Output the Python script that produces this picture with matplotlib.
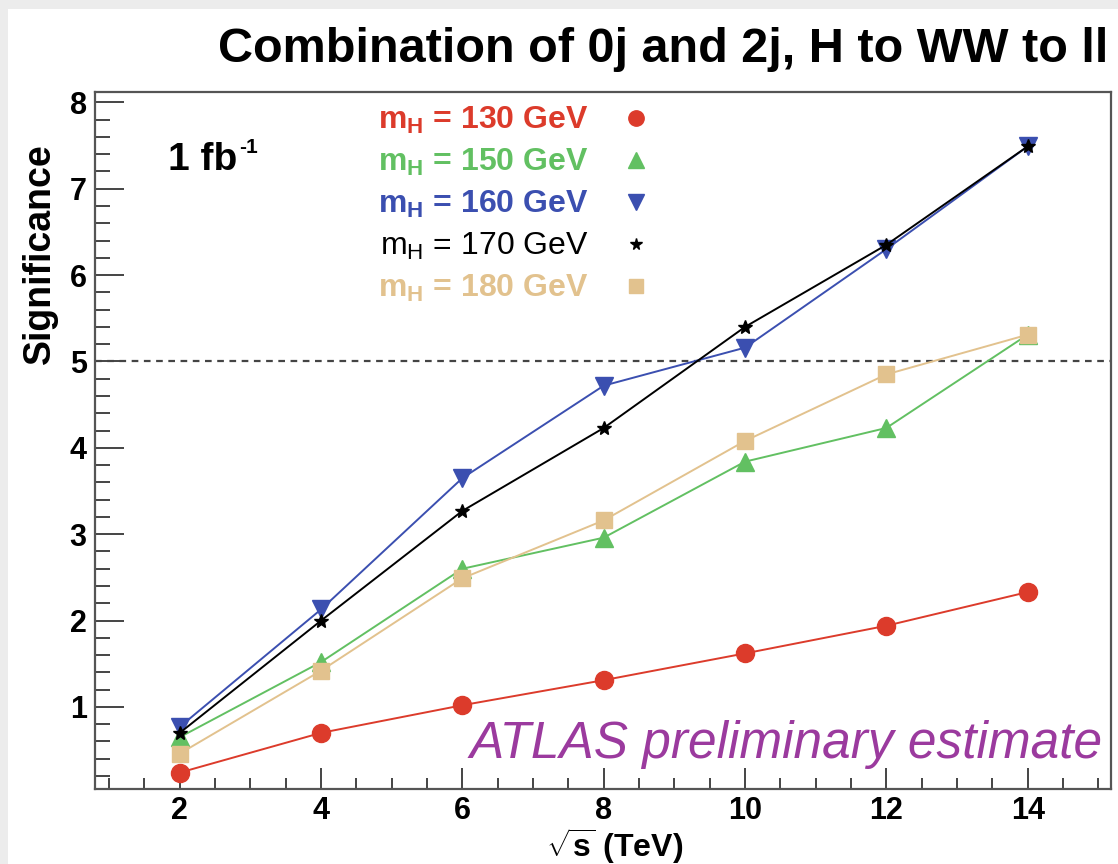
import matplotlib
matplotlib.use("Agg")
import matplotlib.pyplot as plt
from matplotlib.lines import Line2D
from matplotlib.patches import Rectangle
from matplotlib.ticker import MultipleLocator

plt.rcParams['font.family'] = ['Liberation Sans', 'DejaVu Sans']
plt.rcParams['mathtext.fontset'] = 'custom'
plt.rcParams['mathtext.rm'] = 'Liberation Sans'
plt.rcParams['mathtext.bf'] = 'Liberation Sans:bold'
plt.rcParams['mathtext.it'] = 'Liberation Sans:italic'

# data
sqrt_s = [2, 4, 6, 8, 10, 12, 14]
sig_130 = [0.24, 0.70, 1.02, 1.31, 1.62, 1.94, 2.33]
sig_150 = [0.65, 1.52, 2.60, 2.96, 3.84, 4.23, 5.31]
sig_160 = [0.77, 2.13, 3.65, 4.72, 5.16, 6.30, 7.49]
sig_170 = [0.70, 2.00, 3.27, 4.23, 5.40, 6.35, 7.49]
sig_180 = [0.46, 1.42, 2.49, 3.16, 4.08, 4.85, 5.31]
masses = ['130', '150', '160', '170', '180']
threshold = 5.0

series = [sig_130, sig_150, sig_160, sig_170, sig_180]
colors = ['#dc3b2b', '#62c062', '#3b4fb0', '#000000', '#e2c28e']
markers = ['o', '^', 'v', '*', 's']
msizes = [13, 13, 13, 10, 12]
weights = ['bold', 'bold', 'bold', 'normal', 'bold']

W, H = 1118, 864
fig = plt.figure(figsize=(W / 100, H / 100), dpi=100)
fig.patch.set_facecolor('#ececec')
fig.add_artist(Rectangle((8 / W, 0), 1, 1 - 9 / H, transform=fig.transFigure,
                         facecolor='white', edgecolor='none', zorder=-10))

ax = fig.add_axes([95 / W, 1 - 789 / H, (1111 - 95) / W, (789 - 92) / H])

ax.axhline(threshold, color='#444444', linestyle=(0, (3, 2.5)), linewidth=1.6, zorder=1)

handles = []
for vals, c, m, ms in zip(series, colors, markers, msizes):
    ax.plot(sqrt_s, vals, color=c, linewidth=1.4, marker=m, markersize=ms,
            markeredgecolor=c, zorder=3)
    handles.append(Line2D([], [], linestyle='none', marker=m, color=c,
                          markersize=ms * 0.85, markeredgecolor=c))

ax.set_xlim(0.8, 15.18)
ax.set_ylim(0.05, 8.12)
ax.xaxis.set_major_locator(MultipleLocator(2))
ax.xaxis.set_minor_locator(MultipleLocator(0.5))
ax.yaxis.set_major_locator(MultipleLocator(1))
ax.yaxis.set_minor_locator(MultipleLocator(0.2))
ax.set_xticks([2, 4, 6, 8, 10, 12, 14])
ax.set_yticks([1, 2, 3, 4, 5, 6, 7, 8])

for sp in ax.spines.values():
    sp.set_color('#555555')
    sp.set_linewidth(1.6)
ax.tick_params(axis='both', which='both', direction='in', color='#444444', width=1.4)
ax.tick_params(axis='x', which='major', length=15, pad=5, labelsize=22)
ax.tick_params(axis='x', which='minor', length=8)
ax.tick_params(axis='y', which='major', length=21, pad=6, labelsize=22)
ax.tick_params(axis='y', which='minor', length=11)
for lab in ax.get_xticklabels() + ax.get_yticklabels():
    lab.set_fontweight('bold')

labels = [r'$\mathbf{m_H}$ = %s GeV' % m for m in masses]
labels[3] = r'$\mathrm{m_H}$ = %s GeV' % masses[3]
leg = ax.legend(handles, labels, loc='upper left', frameon=False,
                bbox_to_anchor=(378 / W, 1 - 105 / H), bbox_transform=fig.transFigure,
                markerfirst=False, handlelength=0.8, handletextpad=1.1,
                labelspacing=0.34, borderpad=0, borderaxespad=0, fontsize=23)
for t, c, w in zip(leg.get_texts(), colors, weights):
    t.set_color(c)
    t.set_fontweight(w)

fig.text(1108 / W, 1 - 62 / H, 'Combination of 0j and 2j, H to WW to ll',
         ha='right', va='baseline', fontsize=35, fontweight='bold')
fig.text(40 / W, 1 - 143 / H, 'Significance', rotation=90, ha='center', va='top',
         fontsize=27, fontweight='bold')
fig.text(683 / W, 1 - 857 / H, r'$\sqrt{\mathbf{s}}$ (TeV)', ha='right', va='baseline',
         fontsize=23, fontweight='bold')
fig.text(168 / W, 1 - 170 / H, '1 fb', ha='left', va='baseline',
         fontsize=28, fontweight='bold')
fig.text(239 / W, 1 - 153 / H, '-1', ha='left', va='baseline',
         fontsize=15, fontweight='bold')
fig.text(1103 / W, 1 - 758 / H, 'ATLAS preliminary estimate', ha='right', va='baseline',
         fontsize=37, style='italic', color='#9b3a9e')

fig.savefig('out.png', dpi=100)
